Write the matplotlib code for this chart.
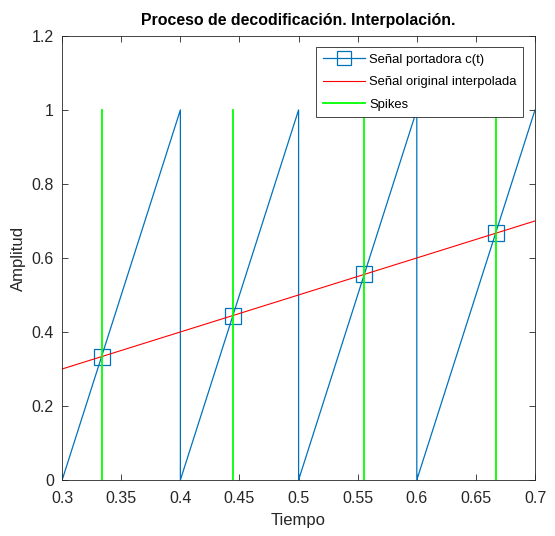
import numpy as np
import matplotlib
matplotlib.use("Agg")
import matplotlib.pyplot as plt

plt.rcParams['font.family'] = ['Liberation Sans', 'DejaVu Sans']

# carrier sawtooth c(t): breakpoints (period 0.1, amplitude 0..1)
t_carrier = [0.3, 0.4, 0.4, 0.5, 0.5, 0.6, 0.6, 0.7]
c_carrier = [0, 1, 0, 1, 0, 1, 0, 1]

# interpolated original signal
t_signal = [0.3, 0.7]
x_signal = [0.3, 0.7]

# spike instants (carrier crosses the signal)
t_spikes = [1/3, 4/9, 5/9, 2/3]
v_spikes = [1/3, 4/9, 5/9, 2/3]
spike_height = 1

blue = '#0072BD'

fig = plt.figure(figsize=(5.55, 5.36), dpi=100)
ax = fig.add_axes([0.112, 0.1045, 0.852, 0.8285])

ax.plot(t_carrier, c_carrier, color=blue, lw=0.9)
ax.plot(t_spikes, v_spikes, ls='none', marker='s', ms=12, mfc='none',
        mec=blue, mew=0.9)
# legend proxy for carrier (line + square)
ax.plot([], [], color=blue, lw=0.9, marker='s', ms=10, mfc='none',
        mec=blue, mew=0.9, label='Señal portadora c(t)')
ax.plot(t_signal, x_signal, color='#FF0000', lw=0.8,
        label='Señal original interpolada')
for i, ts in enumerate(t_spikes):
    ax.plot([ts, ts], [0, spike_height], color='#00FF00', lw=1.3,
            label='Spikes' if i == 0 else None)

ax.set_xlim(0.3, 0.7)
ax.set_ylim(0, 1.2)
ax.set_xticks(np.arange(0.3, 0.701, 0.05))
ax.set_xticklabels(['0.3', '0.35', '0.4', '0.45', '0.5', '0.55', '0.6', '0.65', '0.7'])
ax.set_yticks(np.arange(0, 1.201, 0.2))
ax.set_yticklabels(['0', '0.2', '0.4', '0.6', '0.8', '1', '1.2'])
ax.tick_params(direction='in', top=True, right=True, length=4, width=0.6,
               labelsize=11.5, colors='#262626')
ax.tick_params(axis='x', pad=8)
ax.tick_params(axis='y', pad=6)
for s in ax.spines.values():
    s.set_linewidth(0.6)
    s.set_color('#262626')

ax.set_xlabel('Tiempo', fontsize=12, color='#262626', labelpad=5)
ax.set_ylabel('Amplitud', fontsize=12, color='#262626', labelpad=4)
ax.set_title('Proceso de decodificación. Interpolación.', fontsize=11.4,
             fontweight='bold', pad=8)

leg = ax.legend(loc='upper right', bbox_to_anchor=(0.975, 0.975), fontsize=9.4,
                fancybox=False, framealpha=1, edgecolor='#262626',
                handlelength=3.2, borderpad=0.5, labelspacing=0.8,
                handletextpad=0.35, borderaxespad=0)
leg.get_frame().set_linewidth(0.6)

fig.savefig('out.png', dpi=100)
